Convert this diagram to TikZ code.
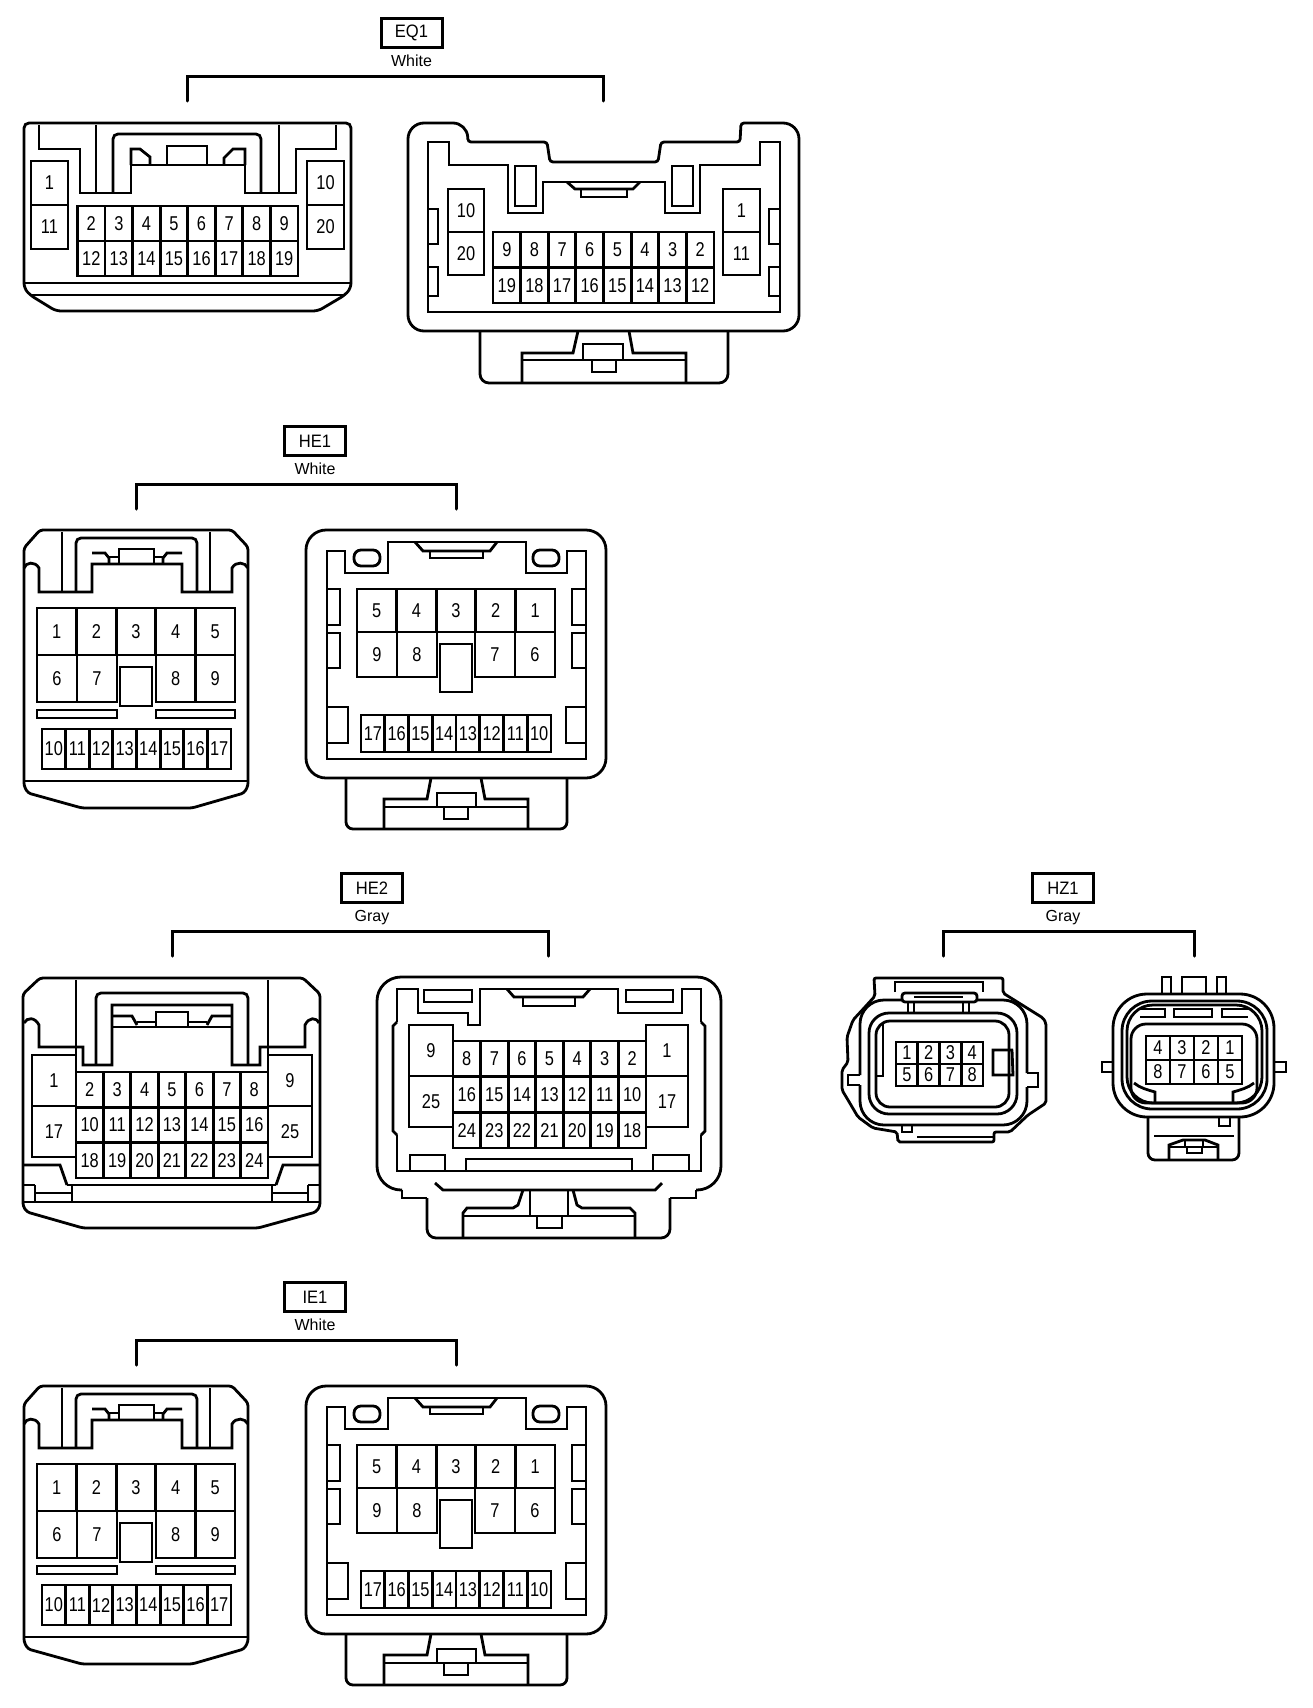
\documentclass[tikz,border=0pt]{standalone}
\usepackage{fontspec}
\setmainfont{Liberation Sans}
\newfontfamily\pinf[FakeStretch=0.82]{Liberation Sans}
\newfontfamily\capf[FakeStretch=0.92]{Liberation Sans}
\newcounter{pinc}
\tikzset{
  pin/.style={inner sep=0pt,font=\pinf\fontsize{20}{20}\selectfont},
  tagbox/.style={draw,line width=3pt,minimum width=61pt,minimum height=29pt,inner sep=0pt,font=\capf\fontsize{18}{18}\selectfont},
  tagcol/.style={inner sep=0pt,anchor=base,font=\fontsize{16}{16}\selectfont},
  brk/.style={line width=3pt,line cap=round},
}
% x0 x1 ncols y0 y1 nrows labels
\newcommand\pingrid[7]{%
  \draw (#1,#4) rectangle (#2,#5);
  \pgfmathsetmacro\gw{(#2-#1)/#3}\pgfmathsetmacro\gh{(#5-#4)/#6}%
  \foreach \k in {1,...,#3}{\ifnum\k<#3\relax\draw ({#1+\k*\gw},#4) -- ({#1+\k*\gw},#5);\fi}%
  \foreach \k in {1,...,#6}{\ifnum\k<#6\relax\draw (#1,{#4+\k*\gh}) -- (#2,{#4+\k*\gh});\fi}%
  \foreach \lab [count=\i from 0] in {#7}{%
    \stepcounter{pinc}%
    \pgfmathtruncatemacro\cc{mod(\i,#3)}\pgfmathtruncatemacro\rr{int(\i/#3)}%
    \node[pin] (p\arabic{pinc}) at ({#1+(\cc+.5)*\gw},{#4+(\rr+.5)*\gh}) {\lab};
  }%
}
% name center-x center-y text colour xL xR
\newcommand\tagged[7]{%
  \node[tagbox] (#1box) at (#2,#3) {#4};
  \node[tagcol] (#1col) at (#2,#3+33) {#5};
  \coordinate (#1L) at (#6,#3+68);
  \coordinate (#1R) at (#7,#3+68);
  \draw[brk] (#1L) -- ++(0,-25) -| (#1R);
}
\newcommand\heleft{%
  \draw[rounded corners=3pt] (24,548) -- (40,530) -- (232,530) -- (248,547) -- (248,786) -- (244,793) -- (192,808) -- (82,808) -- (28,793) -- (24,786) -- cycle;
  \draw (24,781) -- (248,781);
  \draw (24,568) .. controls (26,562) and (35,561) .. (39,568) -- (39,592) -- (92,592) -- (92,564) -- (182,564) -- (182,592) -- (232,592) -- (232,568) .. controls (236,561) and (245,562) .. (248,568);
  \draw (62,532) -- (62,592); \draw (210,532) -- (210,592);
  \draw[rounded corners=5pt] (76,592) -- (76,538) -- (197,538) -- (197,592);
  \draw (92,553) -- (105,553) -- (109,558) -- (109,564);
  \draw (182,553) -- (167,553) -- (163,558) -- (163,564);
  \draw (119,564) -- (119,549) -- (154,549) -- (154,564);
  \draw (109,557) -- (119,557); \draw (154,557) -- (163,557);
  \pingrid{37}{235}{5}{608}{655}{1}{1,2,3,4,5}
  \pingrid{37}{117}{2}{655}{702}{1}{6,7}
  \pingrid{156}{235}{2}{655}{702}{1}{8,9}
  \draw (120,667) rectangle (152,706);
  \draw (37,710) rectangle (117,718); \draw (156,710) rectangle (235,718);
  \pingrid{42}{231}{8}{729}{769}{1}{10,11,12,13,14,15,16,17}
}
\newcommand\heright{%
  \draw[rounded corners=20pt] (306,530) rectangle (606,778);
  \draw (327,551) -- (345,551) -- (345,573) -- (388,573) -- (388,542) -- (526,542) -- (526,573) -- (567,573) -- (567,551) -- (586,551) -- (586,759) -- (327,759) -- cycle;
  \draw[rounded corners=7pt] (354,550) rectangle (380,566);
  \draw[rounded corners=7pt] (533,550) rectangle (559,566);
  \draw (415,542) -- (423,551) -- (490,551) -- (497,542);
  \draw (430,551) -- (430,558) -- (483,558) -- (483,551);
  \draw (327,589) -- (340,589) -- (340,625) -- (327,625);
  \draw (327,633) -- (340,633) -- (340,668) -- (327,668);
  \draw (586,589) -- (572,589) -- (572,625) -- (586,625);
  \draw (586,633) -- (572,633) -- (572,668) -- (586,668);
  \draw (327,707) -- (348,707) -- (348,743) -- (327,743);
  \draw (586,707) -- (566,707) -- (566,743) -- (586,743);
  \pingrid{357}{555}{5}{589}{632}{1}{5,4,3,2,1}
  \pingrid{357}{437}{2}{632}{677}{1}{9,8}
  \pingrid{475}{555}{2}{632}{677}{1}{7,6}
  \draw (440,644) rectangle (472,692);
  \pingrid{361}{551}{8}{715}{752}{1}{17,16,15,14,13,12,11,10}
  \draw[rounded corners=7pt] (346,778) -- (346,829) -- (567,829) -- (567,778);
  \draw (431,778) -- (427,799) -- (384,799) -- (384,829);
  \draw (481,778) -- (485,799) -- (528,799) -- (528,829);
  \draw (384,807) -- (528,807);
  \draw (437,807) -- (437,793) -- (476,793) -- (476,807);
  \draw (444,807) -- (444,819) -- (468,819) -- (468,807);
}
\begin{document}
\begin{tikzpicture}[x=1pt,y=-1pt,line width=2.8pt]
\useasboundingbox (0,0) rectangle (1312,1708);
\fill[white] (0,0) rectangle (1312,1708);

% ---------- EQ1
\tagged{eq}{411.5}{33}{EQ1}{White}{187}{603}
\draw[rounded corners=5pt] (24,123) -- (351,123) -- (351,288) -- (345,295) -- (318,311) -- (56,311) -- (30,295) -- (24,288) -- cycle;
\draw (24,283) -- (351,283); \draw (30,295) -- (345,295);
\draw (39,125) -- (39,149) -- (80,149) -- (80,193) -- (131,193) -- (131,165) -- (245,165) -- (245,193) -- (296,193) -- (296,149) -- (336,149) -- (336,125);
\draw (96,125) -- (96,193); \draw (279,125) -- (279,193);
\draw[rounded corners=5pt] (113,193) -- (113,134) -- (261,134) -- (261,193);
\draw (131,165) -- (131,149) -- (140,149) -- (150,157) -- (150,165);
\draw (245,165) -- (245,149) -- (233,149) -- (224,158) -- (224,165);
\draw (167,165) -- (167,146) -- (207,146) -- (207,165);
\pingrid{31}{68}{1}{161}{249}{2}{1,11}
\pingrid{307}{344}{1}{161}{249}{2}{10,20}
\pingrid{77.5}{298}{8}{206}{276}{2}{2,3,4,5,6,7,8,9,12,13,14,15,16,17,18,19}

\draw[rounded corners=14pt] (408,123) -- (467,123) [rounded corners=3pt] -- (468,142) -- (547,142) -- (550,162) -- (658,162) -- (661,142) -- (740,142) -- (741,123) [rounded corners=16pt] -- (799,123) -- (799,331) -- (408,331) -- cycle;
\draw (428,142) -- (449,142) -- (449,165) -- (508,165) -- (508,213) -- (543,213) -- (543,182) -- (665,182) -- (665,213) -- (700,213) -- (700,165) -- (760,165) -- (760,142) -- (780,142) -- (780,312) -- (428,312) -- cycle;
\draw (515,166) rectangle (536,206); \draw (672,166) rectangle (693,206);
\draw (567,182) -- (575,189) -- (633,189) -- (640,182);
\draw (581,189) -- (581,197) -- (627,197) -- (627,189);
\draw (428,209) -- (438,209) -- (438,244) -- (428,244);
\draw (428,267) -- (438,267) -- (438,296) -- (428,296);
\draw (780,209) -- (769,209) -- (769,244) -- (780,244);
\draw (780,267) -- (769,267) -- (769,296) -- (780,296);
\pingrid{448}{484}{1}{189}{275}{2}{10,20}
\pingrid{723}{760}{1}{189}{275}{2}{1,11}
\pingrid{493}{714}{8}{232}{303}{2}{9,8,7,6,5,4,3,2,19,18,17,16,15,14,13,12}
\draw[rounded corners=9pt] (480,331) -- (480,383) -- (728,383) -- (728,331);
\draw (578,331) -- (573,353) -- (522,353) -- (522,383);
\draw (629,331) -- (633,353) -- (686,353) -- (686,383);
\draw (522,360) -- (686,360);
\draw (583,360) -- (583,344) -- (623,344) -- (623,360);
\draw (592,360) -- (592,372) -- (616,372) -- (616,360);

% ---------- HE1
\tagged{hea}{315}{441}{HE1}{White}{136}{456}
\heleft
\heright

% ---------- IE1
\tagged{iea}{315}{1297}{IE1}{White}{136}{456}
\begin{scope}[shift={(0,856)}]
\heleft
\heright
\end{scope}

% ---------- HE2
\tagged{heb}{372}{888}{HE2}{Gray}{172}{548}
\draw[rounded corners=3pt] (23,994) -- (40,978) -- (303,978) -- (320,994) -- (320,1206) -- (316,1212) -- (258,1228) -- (83,1228) -- (27,1212) -- (23,1206) -- cycle;
\draw (23,1202) -- (320,1202); \draw (67,1185) -- (276,1185); \draw (23,1185) -- (35,1185); \draw (308,1185) -- (320,1185);
\draw (24,1023) .. controls (27,1017) and (35,1017) .. (39,1025) -- (39,1047) -- (83,1047) -- (83,1065) -- (112,1065) -- (112,1005) -- (232,1005) -- (232,1065) -- (260,1065) -- (260,1047) -- (305,1047) -- (305,1025) .. controls (309,1017) and (316,1017) .. (319,1023);
\draw (76,980) -- (76,1072); \draw (268,980) -- (268,1072);
\draw[rounded corners=5pt] (96,1065) -- (96,993) -- (248,993) -- (248,1065);
\draw (112,1016) -- (132,1016) -- (137,1025); \draw (232,1016) -- (212,1016) -- (207,1025);
\draw (112,1027) -- (232,1027);
\draw (156,1027) -- (156,1012) -- (188,1012) -- (188,1027);
\draw (137,1022) -- (156,1022); \draw (188,1022) -- (207,1022);
\pingrid{32}{76}{1}{1055}{1157}{2}{1,17}
\pingrid{268}{312}{1}{1055}{1157}{2}{9,25}
\pingrid{76}{268}{7}{1072}{1178}{3}{2,3,4,5,6,7,8,10,11,12,13,14,15,16,18,19,20,21,22,23,24}
\draw (23,1165) -- (60,1165) -- (67,1185);
\draw (320,1165) -- (283,1165) -- (276,1185);
\draw (35,1185) -- (35,1202); \draw (72,1185) -- (72,1202);
\draw (272,1185) -- (272,1202); \draw (308,1185) -- (308,1202);
\draw (35,1193) -- (72,1193); \draw (272,1193) -- (308,1193);

\draw[rounded corners=24pt] (402,1190) -- (377,1190) -- (377,977) -- (721,977) -- (721,1190) -- (696,1190);
\draw (402,1190) -- (402,1198) -- (427,1198);
\draw (696,1190) -- (696,1198) -- (670,1198);
\draw[rounded corners=9pt] (427,1198) -- (427,1238) -- (670,1238) -- (670,1198);
\draw (435,1183) -- (443,1190) -- (655,1190) -- (662,1183);
\draw (397,1022) -- (397,989) -- (418,989) -- (418,1013) -- (468,1013) -- (468,1025) -- (480,1025) -- (480,989) -- (618,989) -- (618,1013) -- (682,1013) -- (682,989) -- (701,989) -- (701,1022);
\draw (397,1022) -- (393,1026) -- (393,1131) -- (397,1135);
\draw (701,1022) -- (705,1026) -- (705,1131) -- (701,1135);
\draw (397,1135) -- (397,1171) -- (701,1171) -- (701,1135);
\draw (424,990) rectangle (472,1002); \draw (626,990) rectangle (673,1002);
\draw (507,989) -- (514,997) -- (583,997) -- (590,989);
\draw (523,997) -- (523,1006) -- (575,1006) -- (575,997);
\pingrid{409}{453}{1}{1025}{1127}{2}{9,25}
\pingrid{646}{688}{1}{1025}{1127}{2}{1,17}
\pingrid{453}{646}{7}{1041}{1148}{3}{8,7,6,5,4,3,2,16,15,14,13,12,11,10,24,23,22,21,20,19,18}
\draw (410,1171) -- (410,1155) -- (445,1155) -- (445,1171);
\draw (653,1171) -- (653,1155) -- (689,1155) -- (689,1171);
\draw (466,1171) -- (466,1159) -- (632,1159) -- (632,1171);
\draw (523,1190) -- (518,1205) -- (513,1208) -- (467,1208) -- (463,1213) -- (463,1238);
\draw (573,1190) -- (577,1205) -- (582,1208) -- (630,1208) -- (635,1213) -- (635,1238);
\draw (463,1216) -- (635,1216);
\draw (530,1190) -- (530,1216); \draw (568,1190) -- (568,1216);
\draw (537,1216) -- (537,1228) -- (562,1228) -- (562,1216);

% ---------- HZ1
\tagged{hz}{1063}{888}{HZ1}{Gray}{943}{1194}
\draw[rounded corners=2pt] (842,1070) -- (848,1062) -- (847,1037) -- (853,1020) -- (865,1007) -- (875,996) -- (874,978) -- (1003,978) -- (1003,993) -- (1043,1018) -- (1046,1023) -- (1046,1103) -- (1040,1107) -- (1028,1115) -- (1010,1132) -- (994,1132) -- (994,1142) -- (898,1142) -- (897,1132) -- (873,1128) -- (858,1117) -- (848,1100) -- (842,1090) -- cycle;
\draw (895,992) -- (895,982) -- (983,982) -- (983,992);
\draw (917,1137) -- (994,1137);
\draw[rounded corners=24pt] (860,1075) -- (860,1000) -- (1027,1000) -- (1027,1073);
\draw[rounded corners=24pt] (1027,1087) -- (1027,1125) -- (860,1125) -- (860,1085);
\draw (860,1075) -- (848,1075) -- (848,1085) -- (860,1085);
\draw (1027,1073) -- (1038,1073) -- (1038,1087) -- (1027,1087);
\draw (902,1125) -- (902,1132) -- (912,1132) -- (912,1125);
\draw[rounded corners=20pt] (869,1013) rectangle (1017,1114);
\draw[rounded corners=14pt] (876,1021) rectangle (1009,1107);
\draw (883,1024) -- (883,1076) -- (876,1076);
\draw[rounded corners=3pt,fill=white] (902,1002) -- (902,993) -- (977,993) -- (977,1002) -- cycle;
\draw (908,1002) -- (908,1013); \draw (914,1002) -- (914,1013);
\draw (963,1002) -- (963,1013); \draw (969,1002) -- (969,1013);
\draw (914,997) -- (963,997);
\draw (1013,1050) -- (993,1050) -- (993,1075) -- (1013,1075) -- (1012,1050);
\pingrid{896}{983}{4}{1042}{1086}{2}{1,2,3,4,5,6,7,8}

\draw (1162,994) -- (1162,977) -- (1171,977) -- (1171,994);
\draw (1182,994) -- (1182,977) -- (1206,977) -- (1206,994);
\draw (1217,994) -- (1217,977) -- (1226,977) -- (1226,994);
\draw[rounded corners=34pt] (1113,994) rectangle (1274,1117);
\draw[rounded corners=30pt] (1122,1001) rectangle (1267,1109);
\draw[rounded corners=26pt] (1127,1005) rectangle (1262,1103);
\draw[rounded corners=15pt] (1131,1024) rectangle (1257,1103);
\draw (1140,1009) -- (1165,1009) -- (1165,1017) -- (1140,1017);
\draw (1174,1009) rectangle (1212,1017);
\draw (1248,1009) -- (1222,1009) -- (1222,1017) -- (1248,1017);
\draw (1113,1062) -- (1102,1062) -- (1102,1072) -- (1113,1072);
\draw (1274,1062) -- (1286,1062) -- (1286,1072) -- (1274,1072);
\pingrid{1146}{1242}{4}{1036}{1084}{2}{4,3,2,1,8,7,6,5}
\draw (1134,1083) .. controls (1140,1088) and (1148,1090) .. (1155,1092) -- (1155,1103);
\draw (1254,1083) .. controls (1248,1088) and (1240,1090) .. (1233,1092) -- (1233,1103);
\draw[rounded corners=7pt] (1148,1117) -- (1148,1160) -- (1239,1160) -- (1239,1117);
\draw (1154,1136) -- (1234,1136);
\draw (1219,1117) -- (1219,1126) -- (1230,1126) -- (1230,1117);
\draw (1169,1160) -- (1169,1145) -- (1183,1140) -- (1205,1140) -- (1218,1145) -- (1218,1160);
\draw (1185,1147) -- (1185,1140) (1203,1147) -- (1203,1140);
\draw (1169,1147) -- (1218,1147);
\draw (1187,1147) -- (1187,1153) -- (1202,1153) -- (1202,1147);
\end{tikzpicture}
\end{document}
